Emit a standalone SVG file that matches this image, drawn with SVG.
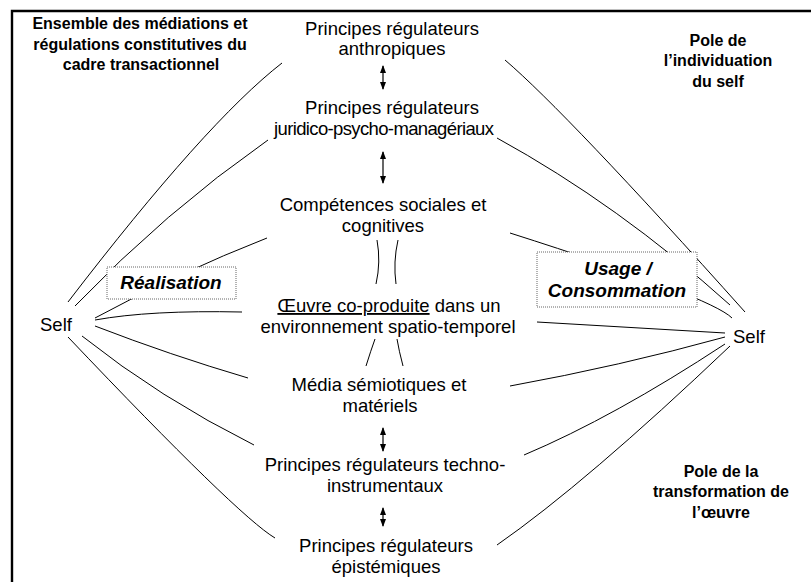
<svg xmlns="http://www.w3.org/2000/svg" width="811" height="582" viewBox="0 0 811 582">
<defs>
<marker id="ah" viewBox="0 0 8 8" refX="7" refY="4" markerWidth="8" markerHeight="8" markerUnits="userSpaceOnUse" orient="auto-start-reverse">
<path d="M0,1 L8,4 L0,7 Z" fill="#000"/>
</marker>
<style>
.t{font-family:"Liberation Sans",Arial,sans-serif;font-size:18.5px;fill:#000;text-anchor:middle}
.b{font-family:"Liberation Sans",Arial,sans-serif;font-size:16px;font-weight:bold;fill:#000;text-anchor:middle}
.bi{font-family:"Liberation Sans",Arial,sans-serif;font-size:19px;font-weight:bold;font-style:italic;fill:#000;text-anchor:middle}
.c{fill:none;stroke:#000;stroke-width:1}
.arr{fill:none;stroke:#000;stroke-width:1.2;marker-start:url(#ah);marker-end:url(#ah)}
.box{fill:#fff;stroke:#666;stroke-width:1;stroke-dasharray:1 1}
</style>
</defs>
<rect x="0" y="0" width="811" height="582" fill="#fff"/>
<path d="M12,590 V11 H820" fill="none" stroke="#000" stroke-width="2.4"/>

<g id="connectors">
<path class="c" d="M282,63 Q206,122 68,302"/>
<path class="c" d="M268,140 Q165,212 75,306"/>
<path class="c" d="M267,238 Q180,272 95,318"/>
<path class="c" d="M242,312 Q150,310 95,320"/>
<path class="c" d="M248,378 Q170,355 95,326"/>
<path class="c" d="M254,445 Q160,398 82,336"/>
<path class="c" d="M275,538 Q238,516 68,337"/>
<path class="c" d="M505,60 Q567,113 745,312"/>
<path class="c" d="M497,138 Q619,205 730,305"/>
<path class="c" d="M510,233 Q711,297 732,318"/>
<path class="c" d="M537,322 L725,333"/>
<path class="c" d="M510,386 Q620,366 725,337"/>
<path class="c" d="M524,455 Q614,417 725,344"/>
<path class="c" d="M497,545 Q586,483 730,346"/>
<path class="c" d="M377,240 Q381,262 376,284"/>
<path class="c" d="M398,240 Q393,262 396,284"/>
<path class="c" d="M375,339 Q371,350 366,366"/>
<path class="c" d="M397,339 Q399,351 403,366"/>
<path class="arr" d="M383,66 V89"/>
<path class="arr" d="M383,152 V183"/>
<path class="arr" d="M383,428 V451"/>
<path class="arr" d="M383,508 V526"/>
</g>

<g id="label-ensemble">
<text class="b" x="140" y="29">Ensemble des médiations et</text>
<text class="b" x="140" y="50">régulations constitutives du</text>
<text class="b" x="141" y="70">cadre transactionnel</text>
</g>
<g id="label-pole-self">
<text class="b" x="718" y="46">Pole de</text>
<text class="b" x="718" y="66">l’individuation</text>
<text class="b" x="718" y="87">du self</text>
</g>
<g id="label-pole-oeuvre">
<text class="b" x="721" y="477">Pole de la</text>
<text class="b" x="721" y="497">transformation de</text>
<text class="b" x="721" y="518">l’œuvre</text>
</g>

<g id="n-anthropiques">
<text class="t" x="392" y="35">Principes régulateurs</text>
<text class="t" x="392" y="55">anthropiques</text>
</g>
<g id="n-juridico">
<text class="t" x="392" y="114">Principes régulateurs</text>
<text class="t" x="384" y="135" textLength="220" lengthAdjust="spacing">juridico-psycho-managériaux</text>
</g>
<g id="n-competences">
<text class="t" x="383" y="211">Compétences sociales et</text>
<text class="t" x="383" y="232">cognitives</text>
</g>
<g id="n-oeuvre">
<text class="t" x="389" y="312"><tspan text-decoration="underline">Œuvre co-produite</tspan> dans un</text>
<text class="t" x="388" y="333">environnement spatio-temporel</text>
</g>
<g id="n-media">
<text class="t" x="379" y="391">Média sémiotiques et</text>
<text class="t" x="380" y="412">matériels</text>
</g>
<g id="n-techno">
<text class="t" x="385" y="471">Principes régulateurs techno-</text>
<text class="t" x="385" y="492">instrumentaux</text>
</g>
<g id="n-epistemiques">
<text class="t" x="386" y="552">Principes régulateurs</text>
<text class="t" x="386" y="573">épistémiques</text>
</g>
<g id="n-self-left">
<text class="t" x="40" y="331" style="text-anchor:start">Self</text>
</g>
<g id="n-self-right">
<text class="t" x="733" y="343" style="text-anchor:start">Self</text>
</g>
<g id="n-realisation">
<rect class="box" x="107" y="267" width="129" height="32"/>
<text class="bi" x="171" y="289">Réalisation</text>
</g>
<g id="n-usage">
<rect class="box" x="537" y="252" width="160" height="55"/>
<text class="bi" x="618" y="275">Usage /</text>
<text class="bi" x="617" y="297">Consommation</text>
</g>
</svg>
